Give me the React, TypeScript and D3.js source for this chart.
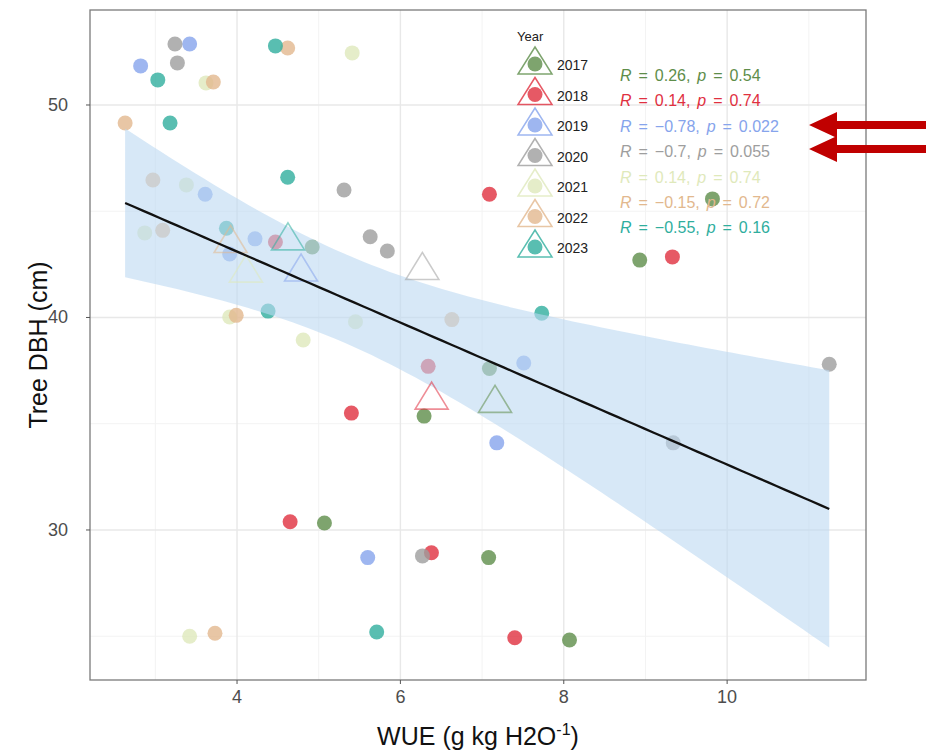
import React from "react";
import * as d3 from "d3";

const years = ["2017", "2018", "2019", "2020", "2021", "2022", "2023"];
const yearColors = ["#5e8d4a", "#e0303f", "#86a4ec", "#9e9e9e", "#dfe9bb", "#e2b88e", "#2fae9e"];

const wue2017 = [4.92, 7.09, 6.29, 8.93, 9.82, 5.07, 7.08, 8.07];
const dbh2017 = [43.32, 37.6, 35.36, 42.7, 45.58, 30.33, 28.7, 24.82];
const wue2018 = [4.47, 6.34, 5.4, 7.09, 9.33, 4.65, 6.38, 7.4];
const dbh2018 = [43.55, 37.7, 35.5, 45.8, 42.85, 30.39, 28.93, 24.93];
const wue2019 = [3.42, 2.82, 3.61, 4.22, 3.91, 7.51, 7.18, 5.6];
const dbh2019 = [52.87, 51.84, 45.8, 43.7, 42.99, 37.86, 34.1, 28.7];
const wue2020 = [3.24, 3.27, 5.31, 5.63, 5.84, 9.34, 11.25, 6.27];
const dbh2020 = [52.87, 51.98, 46.0, 43.8, 43.13, 34.1, 37.8, 28.78];
const wue2021 = [3.62, 5.41, 3.38, 2.87, 3.91, 5.45, 3.42, 4.81];
const dbh2021 = [51.04, 52.45, 46.24, 43.98, 40.02, 39.8, 25.0, 38.94];
const wue2022 = [3.71, 4.62, 2.63, 2.97, 3.09, 3.99, 6.63, 3.73];
const dbh2022 = [51.08, 52.68, 49.15, 46.47, 44.1, 40.1, 39.9, 25.14];
const wue2023 = [3.03, 4.47, 3.18, 4.62, 3.87, 4.38, 7.73, 5.71];
const dbh2023 = [51.18, 52.78, 49.15, 46.6, 44.2, 40.3, 40.2, 25.2];

const wueByYear = [wue2017, wue2018, wue2019, wue2020, wue2021, wue2022, wue2023];
const dbhByYear = [dbh2017, dbh2018, dbh2019, dbh2020, dbh2021, dbh2022, dbh2023];

const rValues = ["0.26", "0.14", "\u22120.78", "\u22120.7", "0.14", "\u22120.15", "\u22120.55"];
const pValues = ["0.54", "0.74", "0.022", "0.055", "0.74", "0.72", "0.16"];

const xTicks = [4, 6, 8, 10];
const xMinor = [3, 5, 7, 9, 11];
const yTicks = [30, 40, 50];
const yMinor = [25, 35, 45];
const T975 = 2.0049; // t quantile, df = 54

const W = 926;
const H = 750;
const panel = { left: 90, right: 866, top: 10, bottom: 680 };

export default function App() {
  const x = d3.scaleLinear().domain([2.2, 11.7]).range([panel.left, panel.right]);
  const y = d3.scaleLinear().domain([22.94, 54.47]).range([panel.bottom, panel.top]);

  const all = wueByYear.flatMap((xs, i) => xs.map((v, j) => ({ x: v, y: dbhByYear[i][j], yi: i })));
  const n = all.length;
  const xbar = d3.mean(all, (d) => d.x) as number;
  const ybar = d3.mean(all, (d) => d.y) as number;
  const sxx = d3.sum(all, (d) => (d.x - xbar) ** 2);
  const sxy = d3.sum(all, (d) => (d.x - xbar) * (d.y - ybar));
  const b = sxy / sxx;
  const a = ybar - b * xbar;
  const sse = d3.sum(all, (d) => (d.y - (a + b * d.x)) ** 2);
  const s = Math.sqrt(sse / (n - 2));
  const [xmin, xmax] = d3.extent(all, (d) => d.x) as [number, number];
  const grid = d3.range(0, 81).map((k) => xmin + ((xmax - xmin) * k) / 80);
  const band = grid.map((gx) => {
    const fit = a + b * gx;
    const se = s * Math.sqrt(1 / n + (gx - xbar) ** 2 / sxx);
    return { x: gx, lo: fit - T975 * se, hi: fit + T975 * se, fit };
  });
  const area = d3
    .area<any>()
    .x((d) => x(d.x))
    .y0((d) => y(d.lo))
    .y1((d) => y(d.hi));
  const line = d3
    .line<any>()
    .x((d) => x(d.x))
    .y((d) => y(d.fit));

  const means = wueByYear.map((xs, i) => ({ x: d3.mean(xs) as number, y: d3.mean(dbhByYear[i]) as number }));

  const tri = (cx: number, cy: number, up: number, down: number, hw: number) =>
    `M${cx},${cy - up}L${cx + hw},${cy + down}L${cx - hw},${cy + down}Z`;

  const arrow = (cy: number) => {
    const tip = 809, back = 837, hh = 13, sh = 4;
    return `M${tip},${cy}L${back},${cy - hh}L${back},${cy - sh}L${W},${cy - sh}L${W},${cy + sh}L${back},${cy + sh}L${back},${cy + hh}Z`;
  };

  const font = "Liberation Sans, Arial, sans-serif";

  return (
    <svg width={W} height={H} style={{ position: "absolute", left: 0, top: 0, background: "#fff" }} fontFamily={font}>
      <rect x={0} y={0} width={W} height={H} fill="#fff" />
      {/* grid */}
      {xMinor.map((v) => (
        <line key={"xm" + v} x1={x(v)} x2={x(v)} y1={panel.top} y2={panel.bottom} stroke="#f3f3f3" strokeWidth={1} />
      ))}
      {yMinor.map((v) => (
        <line key={"ym" + v} y1={y(v)} y2={y(v)} x1={panel.left} x2={panel.right} stroke="#f3f3f3" strokeWidth={1} />
      ))}
      {xTicks.map((v) => (
        <line key={"xg" + v} x1={x(v)} x2={x(v)} y1={panel.top} y2={panel.bottom} stroke="#e8e8e8" strokeWidth={1.4} />
      ))}
      {yTicks.map((v) => (
        <line key={"yg" + v} y1={y(v)} y2={y(v)} x1={panel.left} x2={panel.right} stroke="#e8e8e8" strokeWidth={1.4} />
      ))}

      {/* points */}
      {all.map((d, k) => (
        <circle key={"p" + k} cx={x(d.x)} cy={y(d.y)} r={7.5} fill={yearColors[d.yi]} fillOpacity={0.8} />
      ))}

      {/* ribbon */}
      <path d={area(band) as string} fill="#bcd8f1" fillOpacity={0.6} />

      {/* year means */}
      {means.map((m, i) => (
        <path
          key={"m" + i}
          d={tri(x(m.x), y(m.y), 16, 11, 16.5)}
          fill="none"
          stroke={yearColors[i]}
          strokeOpacity={0.55}
          strokeWidth={1.6}
        />
      ))}

      {/* fit line */}
      <path d={line(band) as string} fill="none" stroke="#111" strokeWidth={2.3} />

      {/* legend */}
      <text x={517} y={41} fontSize={13} fill="#222">Year</text>
      {years.map((yr, i) => {
        const cy = 64 + i * 30.5;
        return (
          <g key={"lg" + yr}>
            <path d={tri(535, cy, 17, 10, 17)} fill="none" stroke={yearColors[i]} strokeOpacity={0.8} strokeWidth={1.5} />
            <circle cx={535} cy={cy} r={7.5} fill={yearColors[i]} fillOpacity={0.8} />
            <text x={557} y={cy + 6} fontSize={14} fill="#222">{yr}</text>
          </g>
        );
      })}

      {/* correlation labels */}
      {years.map((yr, i) => (
        <text key={"st" + yr} x={620} y={81 + i * 25.4} fontSize={16} fill={yearColors[i]} wordSpacing={2.5}>
          <tspan fontStyle="italic">R</tspan>
          {` = ${rValues[i]}, `}
          <tspan fontStyle="italic">p</tspan>
          {` = ${pValues[i]}`}
        </text>
      ))}

      {/* panel border */}
      <rect
        x={panel.left}
        y={panel.top}
        width={panel.right - panel.left}
        height={panel.bottom - panel.top}
        fill="none"
        stroke="#7a7a7a"
        strokeWidth={1.3}
      />

      {/* axes ticks */}
      {xTicks.map((v) => (
        <g key={"xt" + v}>
          <line x1={x(v)} x2={x(v)} y1={panel.bottom} y2={panel.bottom + 4} stroke="#555" />
          <text x={x(v)} y={panel.bottom + 23} fontSize={18} fill="#4d4d4d" textAnchor="middle">{v}</text>
        </g>
      ))}
      {yTicks.map((v) => (
        <g key={"yt" + v}>
          <line x1={panel.left - 4} x2={panel.left} y1={y(v)} y2={y(v)} stroke="#555" />
          <text x={panel.left - 22} y={y(v) + 6} fontSize={18} fill="#4d4d4d" textAnchor="end">{v}</text>
        </g>
      ))}

      {/* axis titles */}
      <text x={478} y={745} fontSize={25} fill="#111" textAnchor="middle">
        WUE (g kg H2O
        <tspan dy={-10} fontSize={16}>-1</tspan>
        <tspan dy={10}>)</tspan>
      </text>
      <text transform={`translate(47,${(panel.top + panel.bottom) / 2}) rotate(-90)`} fontSize={25} fill="#111" textAnchor="middle">
        Tree DBH (cm)
      </text>

      {/* annotation arrows */}
      <path d={arrow(125)} fill="#c00000" />
      <path d={arrow(149)} fill="#c00000" />
    </svg>
  );
}
